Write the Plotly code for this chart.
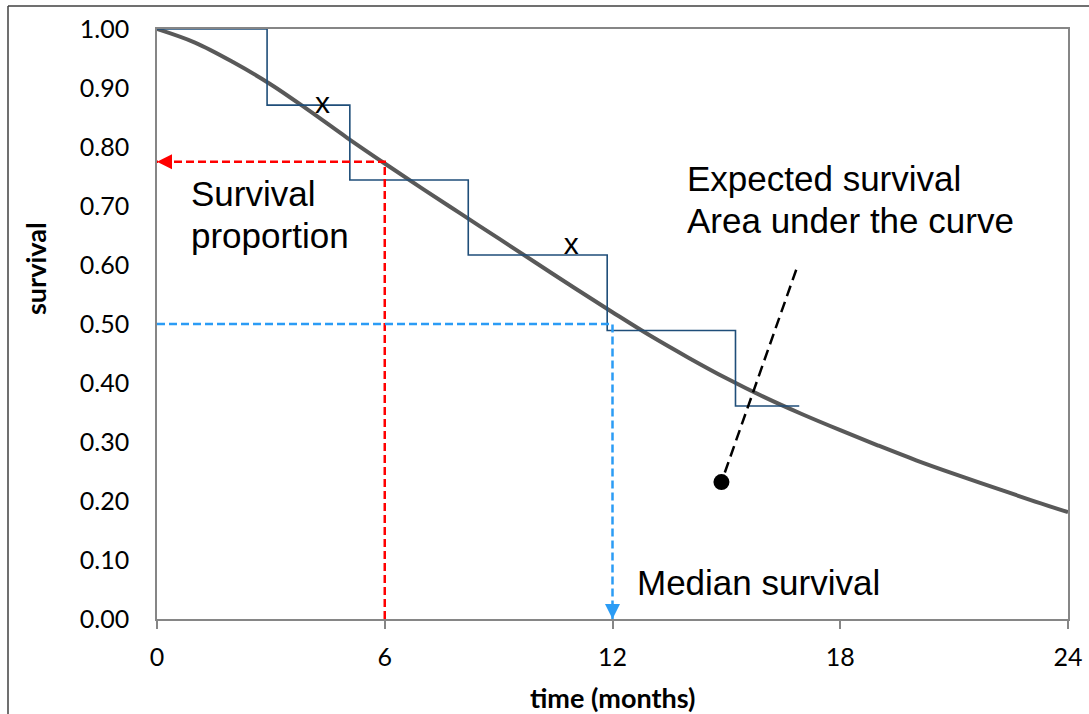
import plotly.graph_objects as go

# ---------------- data ----------------
curve_t = [0, 1, 2, 3, 4, 5, 6, 7, 8, 9, 10, 11, 12, 13, 14, 15, 16, 17, 18, 19, 20, 21, 22, 23, 24]
curve_s = [1.000, 0.977, 0.944, 0.906, 0.862, 0.816, 0.772, 0.729, 0.687, 0.645, 0.603, 0.561, 0.520,
           0.480, 0.443, 0.408, 0.376, 0.347, 0.320, 0.294, 0.269, 0.246, 0.224, 0.202, 0.181]

km_t = [0, 2.9, 5.08, 8.2, 11.86, 15.24, 16.92]
km_s = [1.0, 0.871, 0.744, 0.617, 0.489, 0.361, 0.361]

censor_t = [4.36, 10.91]
censor_s = [0.870, 0.631]

prop_t, prop_s = 6, 0.775          # survival proportion at 6 months
median_t, median_s = 12, 0.50      # median survival

auc_line_t = [16.84, 14.87]        # pointer for "expected survival"
auc_line_s = [0.592, 0.232]

x_ticks = [0, 6, 12, 18, 24]
y_ticks = [0.0, 0.1, 0.2, 0.3, 0.4, 0.5, 0.6, 0.7, 0.8, 0.9, 1.0]

# ---------------- layout constants ----------------
W, H = 1089, 714
L, R, T, B = 157, 1068, 29, 619
TXT = "Liberation Sans, Arial, sans-serif"
AXF = "Lato, Calibri, sans-serif"

fig = go.Figure()

fig.add_trace(go.Scatter(x=curve_t, y=curve_s, mode="lines", line=dict(color="#595959", width=4, shape="spline"),
                         showlegend=False, hoverinfo="skip"))
fig.add_trace(go.Scatter(x=km_t, y=km_s, mode="lines", line=dict(color="#1F4E79", width=1.6, shape="hv"),
                         showlegend=False, hoverinfo="skip"))
fig.add_trace(go.Scatter(x=censor_t, y=censor_s, mode="text", text=["x", "x"], textposition="middle center",
                         textfont=dict(family=TXT, size=30, color="#000"), showlegend=False, hoverinfo="skip"))

# red dashed: survival proportion
fig.add_trace(go.Scatter(x=[prop_t, prop_t, 0], y=[0, prop_s, prop_s], mode="lines",
                         line=dict(color="#FF0000", width=2.5, dash="8px,4px"), showlegend=False, hoverinfo="skip"))
# blue dashed: median
fig.add_trace(go.Scatter(x=[0, median_t, median_t], y=[median_s, median_s, 0], mode="lines",
                         line=dict(color="#2B9CF5", width=2.5, dash="8px,4px"), showlegend=False, hoverinfo="skip"))
# black dashed pointer with dot
fig.add_trace(go.Scatter(x=auc_line_t, y=auc_line_s, mode="lines",
                         line=dict(color="#000", width=2.5, dash="11px,6px"), showlegend=False, hoverinfo="skip"))
fig.add_trace(go.Scatter(x=[auc_line_t[1]], y=[auc_line_s[1]], mode="markers",
                         marker=dict(color="#000", size=16), showlegend=False, hoverinfo="skip"))

ann = []
# arrow heads
ann.append(dict(x=0, y=prop_s, xref="x", yref="y", ax=16, ay=0, showarrow=True, text="",
                arrowhead=2, arrowsize=1.5, arrowwidth=2, arrowcolor="#FF0000", standoff=0))
ann.append(dict(x=median_t, y=0, xref="x", yref="y", ax=0, ay=-16, showarrow=True, text="",
                arrowhead=2, arrowsize=1.5, arrowwidth=2, arrowcolor="#2B9CF5", standoff=0))

def px2t(px):
    return (px - L) / (R - L) * 24

def py2s(py):
    return (B - py) / (B - T)

def txt(s, px, py):
    ann.append(dict(x=px2t(px), y=py2s(py), xref="x", yref="y", text=s, showarrow=False,
                    xanchor="left", yanchor="middle", font=dict(family=TXT, size=35, color="#000")))

txt("Survival", 189, 193)
txt("proportion", 189, 235)
txt("Expected survival", 685, 178)
txt("Area under the curve", 685, 220)
txt("Median survival", 635, 582)

# axis titles
ann.append(dict(x=(35 - L) / (R - L), y=(B - 269) / (B - T), xref="paper", yref="paper", text="<b>survival</b>",
                textangle=-90, showarrow=False, font=dict(family=AXF, size=27, color="#000"),
                xanchor="center", yanchor="middle"))
ann.append(dict(x=0.5, y=(B - 697) / (B - T), xref="paper", yref="paper", text="<b>time (months)</b>",
                showarrow=False, font=dict(family=AXF, size=27, color="#000"), xanchor="center", yanchor="middle"))

# outer frame (left and top edges)
fx0 = (8 - L) / (R - L)
fx1 = (W + 5 - L) / (R - L)
fy0 = (B - (H + 5)) / (B - T)
fy1 = (B - 6) / (B - T)
shapes = [
    dict(type="line", xref="paper", yref="paper", x0=fx0, x1=fx0, y0=fy0, y1=fy1, line=dict(color="#404040", width=1.5)),
    dict(type="line", xref="paper", yref="paper", x0=fx0, x1=fx1, y0=fy1, y1=fy1, line=dict(color="#404040", width=1.5)),
]

fig.update_layout(
    width=W, height=H,
    margin=dict(l=L, r=W - R, t=T, b=H - B, pad=0, autoexpand=False),
    paper_bgcolor="white", plot_bgcolor="white",
    annotations=ann, shapes=shapes,
    xaxis=dict(range=[0, 24], tickvals=x_ticks, ticktext=[str(v) for v in x_ticks], showgrid=False, zeroline=False,
               showline=True, linecolor="#868686", linewidth=1.5, mirror=True, ticks="outside", ticklen=8,
               tickcolor="#868686", tickwidth=1.5, tickfont=dict(family=AXF, size=25, color="#000"),
               ticklabelstandoff=7, automargin=False),
    yaxis=dict(range=[0, 1], tickvals=y_ticks, ticktext=[f"{v:.2f}" for v in y_ticks], showgrid=False,
               zeroline=False, showline=True, linecolor="#868686", linewidth=1.5, mirror=True, ticks="",
               tickfont=dict(family=AXF, size=25, color="#000"), ticklabelstandoff=21, automargin=False),
)

fig.write_html("out.html")
